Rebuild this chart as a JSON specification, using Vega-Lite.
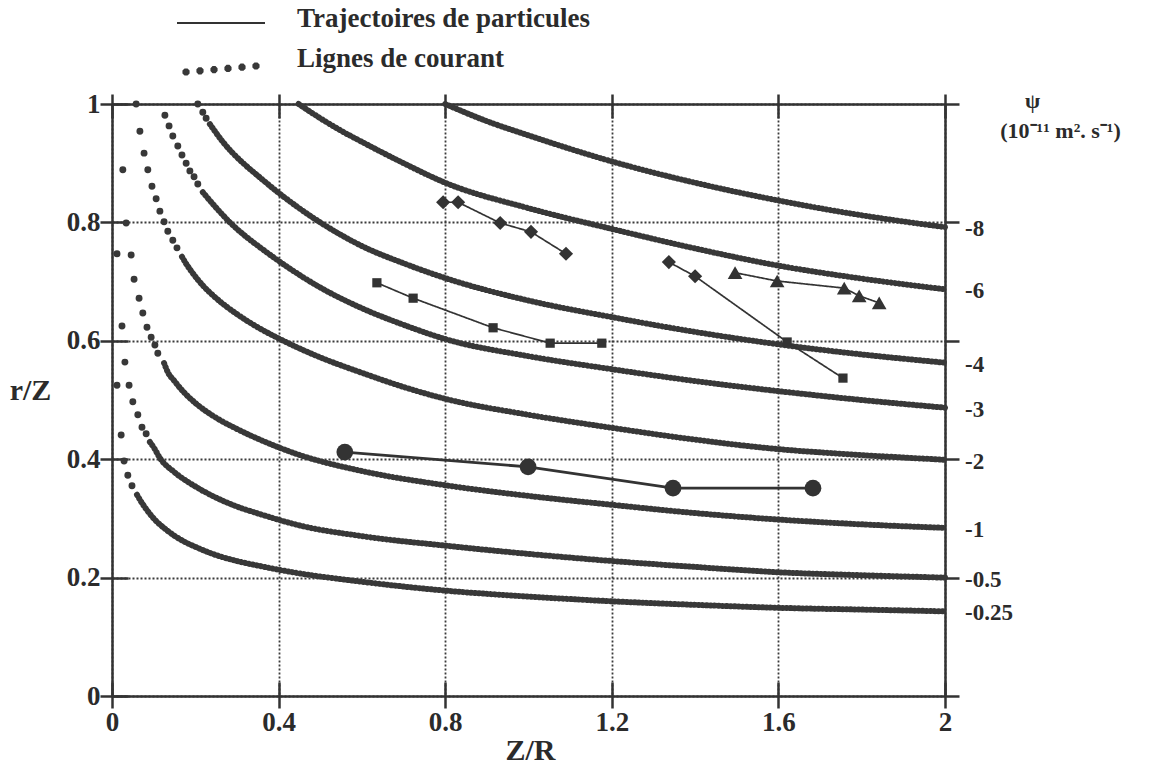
{
  "$schema": "https://vega.github.io/schema/vega-lite/v6.json",
  "width": 833,
  "height": 592,
  "autosize": {"type": "none"},
  "padding": {"left": 112, "top": 104, "right": 212, "bottom": 73},
  "background": "white",
  "config": {
    "view": {"stroke": null},
    "font": "Liberation Serif",
    "axis": {
      "labelFont": "Liberation Serif", "labelFontWeight": "bold", "labelFontSize": 27, "labelColor": "#2b2b2b",
      "titleFont": "Liberation Serif", "titleFontWeight": "bold", "titleFontSize": 30, "titleColor": "#2b2b2b",
      "domainColor": "#333333", "domainWidth": 2.5, "tickColor": "#333333", "tickWidth": 2.5,
      "gridColor": "#3a3a3a", "gridWidth": 1.8, "gridDash": [2, 2], "gridOpacity": 1,
      "labelFlush": false, "labelOverlap": false
    },
    "legend": {
      "labelFont": "Liberation Serif", "labelFontWeight": "bold", "labelFontSize": 27, "labelColor": "#2b2b2b", "labelBaseline": "middle", "labelLimit": 500
    }
  },
  "datasets": {
    "solid": [
      {"psi": -8, "Z": 0.8, "r": 1.0}, {"psi": -8, "Z": 0.9, "r": 0.971}, {"psi": -8, "Z": 1.0, "r": 0.947}, {"psi": -8, "Z": 1.2, "r": 0.903}, {"psi": -8, "Z": 1.4, "r": 0.867}, {"psi": -8, "Z": 1.6, "r": 0.837}, {"psi": -8, "Z": 1.8, "r": 0.812}, {"psi": -8, "Z": 2.0, "r": 0.792},
      {"psi": -6, "Z": 0.448, "r": 1.0}, {"psi": -6, "Z": 0.5, "r": 0.976}, {"psi": -6, "Z": 0.56, "r": 0.951}, {"psi": -6, "Z": 0.6, "r": 0.936}, {"psi": -6, "Z": 0.7, "r": 0.9}, {"psi": -6, "Z": 0.8, "r": 0.867}, {"psi": -6, "Z": 1.0, "r": 0.824}, {"psi": -6, "Z": 1.2, "r": 0.789}, {"psi": -6, "Z": 1.4, "r": 0.756}, {"psi": -6, "Z": 1.6, "r": 0.727}, {"psi": -6, "Z": 1.8, "r": 0.705}, {"psi": -6, "Z": 2.0, "r": 0.687},
      {"psi": -4, "Z": 0.235, "r": 0.966}, {"psi": -4, "Z": 0.245, "r": 0.956}, {"psi": -4, "Z": 0.265, "r": 0.937}, {"psi": -4, "Z": 0.29, "r": 0.917}, {"psi": -4, "Z": 0.315, "r": 0.9}, {"psi": -4, "Z": 0.355, "r": 0.876}, {"psi": -4, "Z": 0.4, "r": 0.85}, {"psi": -4, "Z": 0.5, "r": 0.8}, {"psi": -4, "Z": 0.6, "r": 0.76}, {"psi": -4, "Z": 0.7, "r": 0.731}, {"psi": -4, "Z": 0.8, "r": 0.706}, {"psi": -4, "Z": 1.0, "r": 0.668}, {"psi": -4, "Z": 1.2, "r": 0.64}, {"psi": -4, "Z": 1.4, "r": 0.615}, {"psi": -4, "Z": 1.6, "r": 0.594}, {"psi": -4, "Z": 1.8, "r": 0.577}, {"psi": -4, "Z": 2.0, "r": 0.563},
      {"psi": -3, "Z": 0.218, "r": 0.851}, {"psi": -3, "Z": 0.23, "r": 0.841}, {"psi": -3, "Z": 0.26, "r": 0.817}, {"psi": -3, "Z": 0.283, "r": 0.8}, {"psi": -3, "Z": 0.32, "r": 0.777}, {"psi": -3, "Z": 0.355, "r": 0.758}, {"psi": -3, "Z": 0.4, "r": 0.735}, {"psi": -3, "Z": 0.5, "r": 0.69}, {"psi": -3, "Z": 0.6, "r": 0.655}, {"psi": -3, "Z": 0.7, "r": 0.627}, {"psi": -3, "Z": 0.8, "r": 0.603}, {"psi": -3, "Z": 1.0, "r": 0.574}, {"psi": -3, "Z": 1.2, "r": 0.552}, {"psi": -3, "Z": 1.4, "r": 0.532}, {"psi": -3, "Z": 1.6, "r": 0.515}, {"psi": -3, "Z": 1.8, "r": 0.5}, {"psi": -3, "Z": 2.0, "r": 0.487},
      {"psi": -2, "Z": 0.168, "r": 0.742}, {"psi": -2, "Z": 0.18, "r": 0.728}, {"psi": -2, "Z": 0.192, "r": 0.716}, {"psi": -2, "Z": 0.22, "r": 0.692}, {"psi": -2, "Z": 0.25, "r": 0.672}, {"psi": -2, "Z": 0.3, "r": 0.645}, {"psi": -2, "Z": 0.352, "r": 0.622}, {"psi": -2, "Z": 0.4, "r": 0.604}, {"psi": -2, "Z": 0.5, "r": 0.572}, {"psi": -2, "Z": 0.6, "r": 0.546}, {"psi": -2, "Z": 0.7, "r": 0.522}, {"psi": -2, "Z": 0.8, "r": 0.502}, {"psi": -2, "Z": 1.0, "r": 0.475}, {"psi": -2, "Z": 1.2, "r": 0.453}, {"psi": -2, "Z": 1.4, "r": 0.433}, {"psi": -2, "Z": 1.6, "r": 0.417}, {"psi": -2, "Z": 1.8, "r": 0.407}, {"psi": -2, "Z": 2.0, "r": 0.399},
      {"psi": -1, "Z": 0.125, "r": 0.5625}, {"psi": -1, "Z": 0.134, "r": 0.547}, {"psi": -1, "Z": 0.15, "r": 0.532}, {"psi": -1, "Z": 0.17, "r": 0.515}, {"psi": -1, "Z": 0.2, "r": 0.495}, {"psi": -1, "Z": 0.25, "r": 0.47}, {"psi": -1, "Z": 0.3, "r": 0.451}, {"psi": -1, "Z": 0.352, "r": 0.434}, {"psi": -1, "Z": 0.4, "r": 0.42}, {"psi": -1, "Z": 0.451, "r": 0.407}, {"psi": -1, "Z": 0.6, "r": 0.38}, {"psi": -1, "Z": 0.8, "r": 0.356}, {"psi": -1, "Z": 1.0, "r": 0.338}, {"psi": -1, "Z": 1.2, "r": 0.323}, {"psi": -1, "Z": 1.4, "r": 0.309}, {"psi": -1, "Z": 1.6, "r": 0.298}, {"psi": -1, "Z": 1.8, "r": 0.29}, {"psi": -1, "Z": 2.0, "r": 0.284},
      {"psi": -0.5, "Z": 0.091, "r": 0.429}, {"psi": -0.5, "Z": 0.101, "r": 0.419}, {"psi": -0.5, "Z": 0.115, "r": 0.402}, {"psi": -0.5, "Z": 0.15, "r": 0.378}, {"psi": -0.5, "Z": 0.2, "r": 0.354}, {"psi": -0.5, "Z": 0.25, "r": 0.335}, {"psi": -0.5, "Z": 0.3, "r": 0.32}, {"psi": -0.5, "Z": 0.352, "r": 0.308}, {"psi": -0.5, "Z": 0.451, "r": 0.288}, {"psi": -0.5, "Z": 0.6, "r": 0.27}, {"psi": -0.5, "Z": 0.8, "r": 0.254}, {"psi": -0.5, "Z": 1.0, "r": 0.24}, {"psi": -0.5, "Z": 1.2, "r": 0.228}, {"psi": -0.5, "Z": 1.4, "r": 0.218}, {"psi": -0.5, "Z": 1.6, "r": 0.209}, {"psi": -0.5, "Z": 1.8, "r": 0.204}, {"psi": -0.5, "Z": 2.0, "r": 0.2},
      {"psi": -0.25, "Z": 0.06, "r": 0.34}, {"psi": -0.25, "Z": 0.072, "r": 0.326}, {"psi": -0.25, "Z": 0.085, "r": 0.313}, {"psi": -0.25, "Z": 0.1, "r": 0.3}, {"psi": -0.25, "Z": 0.13, "r": 0.281}, {"psi": -0.25, "Z": 0.17, "r": 0.262}, {"psi": -0.25, "Z": 0.2, "r": 0.252}, {"psi": -0.25, "Z": 0.25, "r": 0.238}, {"psi": -0.25, "Z": 0.3, "r": 0.228}, {"psi": -0.25, "Z": 0.352, "r": 0.22}, {"psi": -0.25, "Z": 0.451, "r": 0.207}, {"psi": -0.25, "Z": 0.6, "r": 0.193}, {"psi": -0.25, "Z": 0.8, "r": 0.178}, {"psi": -0.25, "Z": 1.0, "r": 0.168}, {"psi": -0.25, "Z": 1.2, "r": 0.16}, {"psi": -0.25, "Z": 1.4, "r": 0.154}, {"psi": -0.25, "Z": 1.6, "r": 0.149}, {"psi": -0.25, "Z": 1.8, "r": 0.146}, {"psi": -0.25, "Z": 2.0, "r": 0.143}
    ],
    "dots": [
      {"psi": -4, "Z": 0.206, "r": 1.0}, {"psi": -4, "Z": 0.218, "r": 0.986}, {"psi": -4, "Z": 0.226, "r": 0.976},
      {"psi": -3, "Z": 0.127, "r": 0.981}, {"psi": -3, "Z": 0.137, "r": 0.963}, {"psi": -3, "Z": 0.146, "r": 0.946}, {"psi": -3, "Z": 0.158, "r": 0.929}, {"psi": -3, "Z": 0.168, "r": 0.914}, {"psi": -3, "Z": 0.178, "r": 0.9}, {"psi": -3, "Z": 0.187, "r": 0.887}, {"psi": -3, "Z": 0.197, "r": 0.877}, {"psi": -3, "Z": 0.206, "r": 0.865},
      {"psi": -2, "Z": 0.058, "r": 1.0}, {"psi": -2, "Z": 0.067, "r": 0.954}, {"psi": -2, "Z": 0.077, "r": 0.917}, {"psi": -2, "Z": 0.086, "r": 0.889}, {"psi": -2, "Z": 0.096, "r": 0.861}, {"psi": -2, "Z": 0.106, "r": 0.84}, {"psi": -2, "Z": 0.115, "r": 0.819}, {"psi": -2, "Z": 0.125, "r": 0.801}, {"psi": -2, "Z": 0.134, "r": 0.785}, {"psi": -2, "Z": 0.146, "r": 0.77}, {"psi": -2, "Z": 0.156, "r": 0.757},
      {"psi": -1, "Z": 0.026, "r": 0.889}, {"psi": -1, "Z": 0.034, "r": 0.799}, {"psi": -1, "Z": 0.046, "r": 0.745}, {"psi": -1, "Z": 0.053, "r": 0.704}, {"psi": -1, "Z": 0.065, "r": 0.672}, {"psi": -1, "Z": 0.074, "r": 0.647}, {"psi": -1, "Z": 0.084, "r": 0.623}, {"psi": -1, "Z": 0.094, "r": 0.606}, {"psi": -1, "Z": 0.103, "r": 0.593}, {"psi": -1, "Z": 0.11, "r": 0.579},
      {"psi": -0.5, "Z": 0.012, "r": 0.747}, {"psi": -0.5, "Z": 0.024, "r": 0.625}, {"psi": -0.5, "Z": 0.031, "r": 0.564}, {"psi": -0.5, "Z": 0.041, "r": 0.525}, {"psi": -0.5, "Z": 0.05, "r": 0.497}, {"psi": -0.5, "Z": 0.062, "r": 0.475}, {"psi": -0.5, "Z": 0.072, "r": 0.454}, {"psi": -0.5, "Z": 0.082, "r": 0.443},
      {"psi": -0.25, "Z": 0.012, "r": 0.525}, {"psi": -0.25, "Z": 0.022, "r": 0.441}, {"psi": -0.25, "Z": 0.029, "r": 0.397}, {"psi": -0.25, "Z": 0.038, "r": 0.373}, {"psi": -0.25, "Z": 0.048, "r": 0.355}
    ],
    "traj": [
      {"series": "A", "marker": "diamond", "Z": 0.795, "r": 0.834}, {"series": "A", "marker": "diamond", "Z": 0.831, "r": 0.834}, {"series": "A", "marker": "diamond", "Z": 0.932, "r": 0.799}, {"series": "A", "marker": "diamond", "Z": 1.006, "r": 0.784}, {"series": "A", "marker": "diamond", "Z": 1.09, "r": 0.747},
      {"series": "B", "marker": "square", "Z": 0.636, "r": 0.698}, {"series": "B", "marker": "square", "Z": 0.723, "r": 0.672}, {"series": "B", "marker": "square", "Z": 0.915, "r": 0.622}, {"series": "B", "marker": "square", "Z": 1.052, "r": 0.596}, {"series": "B", "marker": "square", "Z": 1.176, "r": 0.596},
      {"series": "C", "marker": "diamond", "Z": 1.337, "r": 0.733}, {"series": "C", "marker": "diamond", "Z": 1.4, "r": 0.709}, {"series": "C", "marker": "square", "Z": 1.621, "r": 0.598}, {"series": "C", "marker": "square", "Z": 1.755, "r": 0.537},
      {"series": "D", "marker": "triangle", "Z": 1.496, "r": 0.715}, {"series": "D", "marker": "triangle", "Z": 1.597, "r": 0.701}, {"series": "D", "marker": "triangle", "Z": 1.758, "r": 0.689}, {"series": "D", "marker": "triangle", "Z": 1.794, "r": 0.676}, {"series": "D", "marker": "triangle", "Z": 1.842, "r": 0.664},
      {"series": "E", "marker": "circle", "Z": 0.559, "r": 0.412}, {"series": "E", "marker": "circle", "Z": 0.999, "r": 0.387}, {"series": "E", "marker": "circle", "Z": 1.347, "r": 0.351}, {"series": "E", "marker": "circle", "Z": 1.683, "r": 0.351}
    ]
  },
  "layer": [
    {
      "data": {"name": "solid"},
      "mark": {"type": "line", "strokeWidth": 6, "strokeCap": "round", "strokeJoin": "round", "strokeDash": [0.5, 3.5], "color": "#383838", "interpolate": "monotone"},
      "encoding": {
        "x": {"field": "Z", "type": "quantitative", "scale": {"domain": [0, 2], "nice": false, "zero": false},
          "axis": {"orient": "bottom", "values": [0, 0.4, 0.8, 1.2, 1.6, 2], "format": "~g", "tickSize": 12, "labelPadding": 1, "grid": false,
            "title": "Z/R", "titleX": 418, "titleY": 54, "titleAlign": "center", "titleBaseline": "middle", "titleAnchor": "start"}},
        "y": {"field": "r", "type": "quantitative", "scale": {"domain": [0, 1], "nice": false, "zero": false},
          "axis": {"orient": "left", "values": [0, 0.2, 0.4, 0.6, 0.8, 1], "format": "~g", "tickSize": 12, "labelPadding": 0, "grid": false, "labelBaseline": "middle",
            "title": "r/Z", "titleAngle": 0, "titleX": -82, "titleY": 286, "titleAlign": "center", "titleBaseline": "middle", "titleAnchor": "start"}},
        "detail": {"field": "psi", "type": "nominal"}
      }
    },
    {
      "data": {"name": "traj"},
      "transform": [{"filter": "datum.series !== 'E'"}],
      "mark": {"type": "line", "strokeWidth": 1.7, "color": "#333333"},
      "encoding": {
        "x": {"field": "Z", "type": "quantitative",
          "axis": {"orient": "bottom", "values": [0, 0.4, 0.8, 1.2, 1.6, 2], "tickSize": -14, "labels": false, "domain": false, "title": null, "grid": true}},
        "y": {"field": "r", "type": "quantitative",
          "axis": {"orient": "left", "values": [0, 0.2, 0.4, 0.6, 0.8, 1], "tickSize": -16, "labels": false, "domain": false, "title": null, "grid": true}},
        "detail": {"field": "series", "type": "nominal"},
        "strokeDash": {"datum": "Trajectoires de particules", "type": "nominal",
          "scale": {"domain": ["Trajectoires de particules"], "range": [[1, 0]]},
          "legend": {
            "title": null, "orient": "none", "legendX": 95.5, "legendY": -99, "direction": "vertical", "padding": 0,
            "symbolType": "M-8,0.8H8", "symbolSize": 121, "symbolStrokeWidth": 2, "symbolStrokeColor": "#333333", "labelOffset": 62.5
          }
        }
      }
    },
    {
      "data": {"name": "traj"},
      "transform": [{"filter": "datum.series === 'E'"}],
      "mark": {"type": "line", "strokeWidth": 2.8, "color": "#333333"},
      "encoding": {
        "x": {"field": "Z", "type": "quantitative", "axis": null},
        "y": {"field": "r", "type": "quantitative", "axis": null},
        "detail": {"field": "series", "type": "nominal"}
      }
    },
    {
      "data": {"name": "dots"},
      "mark": {"type": "point", "filled": true, "size": 48, "opacity": 1},
      "encoding": {
        "x": {"field": "Z", "type": "quantitative",
          "axis": {"orient": "top", "values": [0, 0.4, 0.8, 1.2, 1.6, 2], "tickSize": 10, "labels": false, "domain": true, "grid": false,
            "title": "ψ", "titleX": 920, "titleY": -4, "titleAlign": "center", "titleBaseline": "middle", "titleAngle": 0, "titleFontSize": 22, "titleAnchor": "start"}},
        "y": {"field": "r", "type": "quantitative",
          "axis": {"orient": "right", "values": [0, 0.2, 0.4, 0.6, 0.8, 1], "tickSize": 14, "labels": false, "domain": true, "grid": false,
            "title": "(10⁻¹¹ m². s⁻¹)", "titleAngle": 0, "titleX": 115, "titleY": 26, "titleAlign": "center", "titleBaseline": "middle", "titleFontSize": 22, "titleAnchor": "start"}},
        "color": {"datum": "Lignes de courant", "type": "nominal",
          "scale": {"domain": ["Lignes de courant"], "range": ["#383838"]},
          "legend": {
            "title": null, "orient": "none", "legendX": 95.5, "legendY": -59, "direction": "vertical", "padding": 0,
            "symbolType": "M-5.71,2.72L-6.09,3.1L-6.63,3.1L-7.01,2.72L-7.01,2.18L-6.63,1.8L-6.09,1.8L-5.71,2.18ZM-3.17,2.51L-3.55,2.89L-4.09,2.89L-4.47,2.51L-4.47,1.97L-4.09,1.59L-3.55,1.59L-3.17,1.97ZM-0.62,2.29L-1,2.67L-1.54,2.67L-1.92,2.29L-1.92,1.75L-1.54,1.37L-1,1.37L-0.62,1.75ZM1.92,2.07L1.54,2.45L1,2.45L0.62,2.07L0.62,1.53L1,1.15L1.54,1.15L1.92,1.53ZM4.47,1.85L4.09,2.23L3.55,2.23L3.17,1.85L3.17,1.31L3.55,0.93L4.09,0.93L4.47,1.31ZM7.01,1.63L6.63,2.01L6.09,2.01L5.71,1.63L5.71,1.09L6.09,0.71L6.63,0.71L7.01,1.09Z",
            "symbolSize": 121, "symbolStrokeWidth": 0, "symbolOpacity": 1, "labelOffset": 62.5
          }
        }
      }
    },
    {
      "data": {"name": "traj"},
      "transform": [{"filter": "datum.marker === 'circle'"}],
      "mark": {"type": "point", "shape": "circle", "size": 280, "filled": true, "opacity": 1, "color": "#333333"},
      "encoding": {
        "x": {"field": "Z", "type": "quantitative",
          "axis": {"orient": "top", "values": [0, 0.4, 0.8, 1.2, 1.6, 2], "tickSize": -14, "labels": false, "domain": false, "title": null, "grid": false}},
        "y": {"field": "r", "type": "quantitative", "axis": null}
      }
    },
    {
      "data": {"name": "traj"},
      "transform": [{"filter": "datum.marker === 'diamond'"}],
      "mark": {"type": "point", "shape": "diamond", "size": 200, "filled": true, "opacity": 1, "color": "#333333"},
      "encoding": {
        "x": {"field": "Z", "type": "quantitative", "axis": null},
        "y": {"field": "r", "type": "quantitative", "axis": null}
      }
    },
    {
      "data": {"name": "traj"},
      "transform": [{"filter": "datum.marker === 'square'"}],
      "mark": {"type": "point", "shape": "square", "size": 85, "filled": true, "opacity": 1, "color": "#333333"},
      "encoding": {
        "x": {"field": "Z", "type": "quantitative", "axis": null},
        "y": {"field": "r", "type": "quantitative", "axis": null}
      }
    },
    {
      "data": {"name": "traj"},
      "transform": [{"filter": "datum.marker === 'triangle'"}],
      "mark": {"type": "point", "shape": "triangle-up", "size": 215, "filled": true, "opacity": 1, "color": "#333333"},
      "encoding": {
        "x": {"field": "Z", "type": "quantitative", "axis": null},
        "y": {"field": "r", "type": "quantitative", "axis": null}
      }
    },
    {
      "data": {"name": "solid"},
      "transform": [{"filter": "datum.Z == 2"}],
      "mark": {"type": "text", "align": "left", "baseline": "middle", "dx": 20, "dy": 2, "font": "Liberation Serif", "fontWeight": "bold", "fontSize": 23, "color": "#2b2b2b"},
      "encoding": {
        "x": {"field": "Z", "type": "quantitative", "axis": null},
        "y": {"field": "r", "type": "quantitative", "axis": null},
        "text": {"field": "psi", "type": "nominal"}
      }
    }
  ],
  "resolve": {"axis": {"x": "independent", "y": "independent"}}
}
